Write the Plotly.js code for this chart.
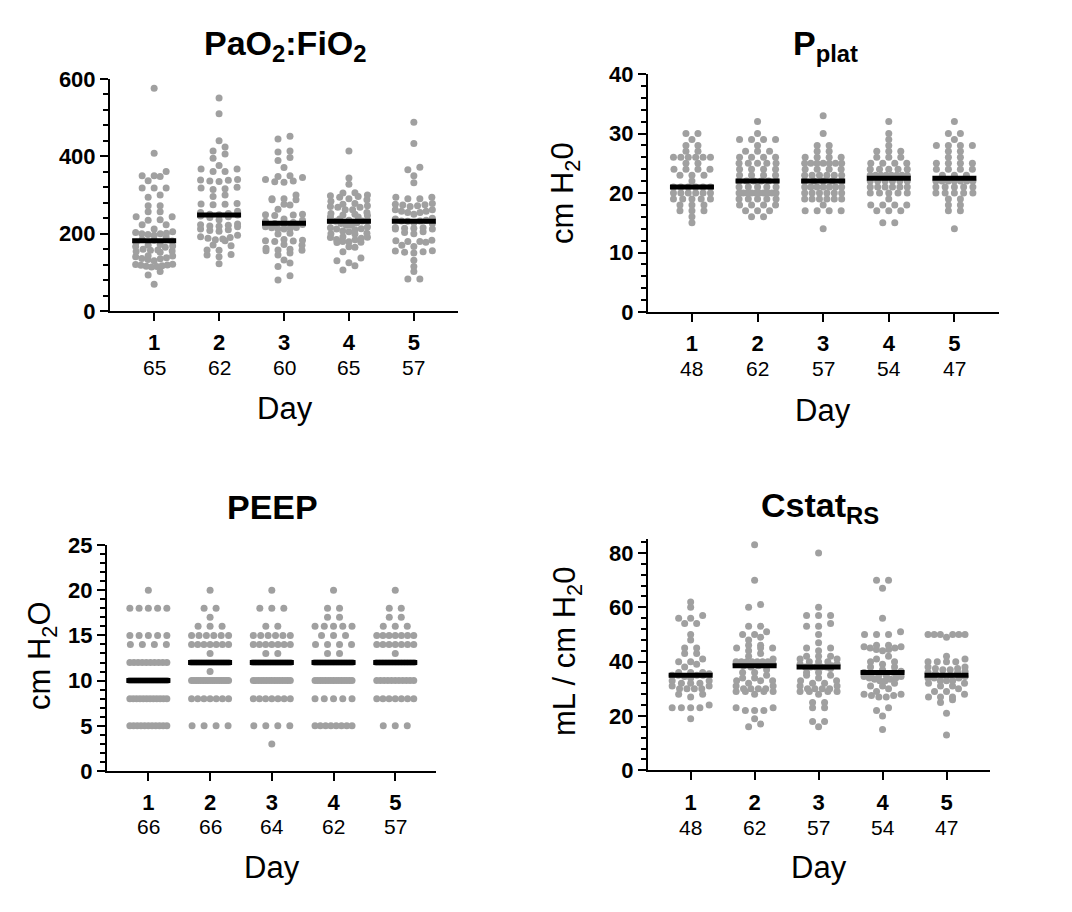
<!DOCTYPE html>
<html>
<head>
<meta charset="utf-8">
<script src="https://cdn.plot.ly/plotly-3.0.1.min.js"></script>
<style>
  html, body { margin: 0; padding: 0; background: #fff; }
  #chart { width: 1072px; height: 912px; }
</style>
</head>
<body>
<div id="chart"></div>
<script>
// ---- data ----
var days = [1, 2, 3, 4, 5];

// PaO2:FiO2
var pfN = [65, 62, 60, 65, 57];
var pfMedians = [182, 248, 227, 232, 232];
var pfValues = [
  [576, 408, 361, 350, 350, 348, 337, 318, 318, 318, 300, 294, 272, 272, 257, 257, 244, 244, 236, 235,
   223, 223, 212, 205, 203, 201, 200, 200, 198, 196, 190, 185, 183, 181, 178, 172, 170, 168, 167, 165,
   160, 158, 157, 155, 154, 152, 143, 142, 140, 138, 136, 135, 133, 130, 121, 120, 119, 118, 117, 116,
   115, 114, 102, 93, 69],
  [551, 510, 440, 424, 414, 406, 395, 376, 367, 367, 361, 361, 340, 339, 338, 336, 335, 320, 318, 316,
   314, 300, 296, 278, 277, 276, 275, 258, 255, 252, 250, 249, 248, 246, 244, 242, 236, 225, 223, 222,
   220, 219, 218, 212, 210, 208, 206, 196, 192, 190, 188, 186, 184, 182, 171, 169, 158, 157, 146, 145,
   140, 122],
  [452, 445, 414, 411, 397, 389, 371, 350, 345, 340, 336, 334, 333, 348, 300, 290, 290, 288, 288, 276,
   274, 263, 224, 250, 249, 248, 247, 225, 238, 235, 232, 229, 226, 218, 216, 215, 214, 213, 212, 201,
   199, 185, 183, 182, 181, 180, 172, 170, 162, 160, 158, 157, 156, 145, 132, 124, 115, 91, 80, 150],
  [414, 344, 328, 305, 300, 290, 284, 288, 298, 306, 270, 268, 262, 255, 262, 268, 272, 243, 243, 238,
   235, 234, 233, 233, 232, 228, 226, 222, 215, 212, 210, 213, 217, 222, 200, 201, 199, 190, 192, 188,
   191, 178, 180, 177, 179, 165, 166, 153, 137, 130, 125, 117, 106, 252, 250, 248, 247, 296, 294, 278,
   276, 207, 205, 185, 184],
  [488, 433, 372, 365, 350, 332, 294, 294, 290, 290, 278, 276, 275, 274, 272, 270, 262, 258, 255, 250,
   255, 258, 262, 240, 238, 235, 233, 233, 232, 228, 226, 215, 214, 212, 212, 214, 216, 205, 203, 200,
   182, 180, 178, 180, 183, 170, 167, 155, 153, 150, 152, 156, 131, 115, 102, 83, 83]
];

// Pplat
var pplatN = [48, 62, 57, 54, 47];
var pplatMedians = [21, 22, 22, 22.5, 22.5];
var pplatValues = [
  [30, 30, 29, 28, 28, 27, 27, 26, 26, 26, 26, 26, 26, 25, 25, 24, 24, 24, 24, 23, 23, 23, 22,
   21, 21, 21, 21, 21, 21, 20, 20, 20, 20, 20, 20, 19, 19, 19, 19, 19, 18, 18, 18, 17, 17, 17, 16, 15],
  [32, 30, 29, 29, 29, 29, 28, 27, 27, 27, 26, 26, 26, 26, 25, 25, 25, 25, 25, 24, 24, 24, 24,
   23, 23, 23, 23, 22, 22, 22, 22, 22, 22, 21, 21, 21, 21, 21, 20, 20, 20, 20, 20, 20, 20, 20, 20, 20,
   19, 19, 19, 19, 19, 18, 18, 18, 18, 17, 17, 17, 16, 16],
  [33, 30, 28, 28, 27, 27, 26, 26, 26, 26, 25, 25, 25, 25, 25, 25, 25, 24, 24, 24, 24,
   23, 23, 23, 23, 23, 23, 22, 22, 22, 22, 22, 21, 21, 21, 21, 21, 21, 21, 20, 20, 20, 20, 20, 20,
   19, 19, 19, 19, 19, 19, 18, 17, 17, 17, 17, 14],
  [32, 30, 29, 28, 27, 27, 27, 26, 26, 26, 25, 25, 25, 25, 24, 24, 24, 24, 24,
   23, 23, 23, 23, 23, 23, 23, 23, 22, 22, 22, 22, 22, 22, 21, 21, 21, 21, 21, 21,
   20, 20, 20, 20, 20, 19, 18, 18, 18, 18, 17, 17, 17, 15, 15],
  [32, 30, 30, 29, 28, 28, 28, 28, 27, 27, 26, 26, 25, 25, 25, 25, 24, 24, 24, 24, 23, 23, 23,
   22, 22, 22, 22, 22, 22, 22, 21, 21, 21, 21, 21, 20, 20, 20, 20, 20, 19, 19, 18, 18, 17, 17, 14]
];

// PEEP
var peepN = [66, 66, 64, 62, 57];
var peepMedians = [10, 12, 12, 12, 12];
var peepValues = [
  [20, 18, 18, 18, 18, 18, 15, 15, 15, 15, 15, 14, 14, 14, 14,
   12, 12, 12, 12, 12, 12, 12, 12, 12, 12,
   10, 10, 10, 10, 10, 10, 10, 10, 10, 10, 10, 10, 10, 10, 10, 10, 10, 10,
   8, 8, 8, 8, 8, 8, 8, 8, 8, 8, 8, 8,
   5, 5, 5, 5, 5, 5, 5, 5, 5, 5, 5],
  [20, 18, 18, 17, 16, 16, 16, 15, 15, 15, 15, 15, 15, 14, 14, 14, 14, 14, 14, 14, 13,
   12, 12, 12, 12, 12, 12, 12, 12, 12, 12, 12, 12, 12, 12, 12, 12, 11,
   10, 10, 10, 10, 10, 10, 10, 10, 10, 10, 10, 10, 10, 10, 10, 10, 10,
   8, 8, 8, 8, 8, 8, 8, 5, 5, 5, 5],
  [20, 18, 18, 18, 16, 16, 15, 15, 15, 15, 15, 15, 14, 14, 14, 14, 14, 14, 14, 13, 13,
   12, 12, 12, 12, 12, 12, 12, 12, 12, 12, 12, 12, 12, 12, 12, 12,
   10, 10, 10, 10, 10, 10, 10, 10, 10, 10, 10, 10, 10, 10, 10,
   8, 8, 8, 8, 8, 8, 8, 5, 5, 5, 5, 3],
  [20, 18, 18, 17, 17, 16, 16, 16, 16, 16, 15, 15, 15, 14, 14, 14, 14, 13, 13,
   12, 12, 12, 12, 12, 12, 12, 12, 12, 12, 12, 12, 12, 12, 12,
   10, 10, 10, 10, 10, 10, 10, 10, 10, 10, 10, 10, 10, 10, 10,
   8, 8, 8, 8, 8, 5, 5, 5, 5, 5, 5, 5, 5],
  [20, 18, 18, 17, 17, 16, 16, 16, 15, 15, 15, 15, 15, 15, 15, 14, 14, 14, 14, 14, 14, 14, 13,
   12, 12, 12, 12, 12, 12, 12, 12, 12, 12, 12, 12, 12,
   10, 10, 10, 10, 10, 10, 10, 10, 10, 10, 10,
   8, 8, 8, 8, 8, 8, 8, 5, 5, 5]
];

// Cstat RS
var cstatN = [48, 62, 57, 54, 47];
var cstatMedians = [35, 38.5, 38, 36, 35];
var cstatValues = [
  [62, 60, 57, 56, 56, 54, 54, 50, 48, 45, 45, 43, 43, 41, 40, 40, 39, 38,
   36, 36, 36, 35.5, 35, 35, 35, 35, 34.5, 34, 33, 33, 32, 32, 32, 31, 31,
   30, 30, 30, 30, 28, 28, 27, 24, 23, 23, 23, 23, 19],
  [83, 70, 61, 60, 53, 53, 51, 50, 49, 50, 48, 46, 46, 45, 45, 45, 44, 42, 41, 43,
   40, 40, 40, 40, 40, 40, 40, 39, 39, 39, 38.5, 38.5, 38,
   37, 36, 36, 35, 34, 34, 33, 33, 33, 32,
   31, 31, 30, 30, 30, 29, 29, 29, 29, 30, 28,
   23, 22, 22, 22, 23, 19, 17, 16],
  [80, 60, 57, 57, 57, 54, 53, 53, 50, 47, 45, 45, 44, 42, 42, 42, 41, 41, 40, 40,
   40, 39, 39, 38.5, 38, 38, 38, 37.5, 38, 38, 36, 35, 35, 34, 33, 33, 32, 32, 31, 30,
   30, 30, 29, 29, 29, 29, 30, 28, 25, 25, 23, 23, 18, 18, 16, 36, 31],
  [70, 70, 67, 56, 51, 50, 50, 50, 46, 45.5, 45, 44.5, 44, 44.5, 45, 45.5, 46,
   42, 41, 40, 40, 39, 38, 38, 37, 36.5, 36, 36, 35.5,
   35, 35, 34.5, 34, 33.5, 33, 33, 33.5, 34, 34.5, 32, 31, 31, 30, 29,
   28, 27.5, 27, 27, 27.5, 28, 23, 22, 20, 15],
  [50, 50, 50, 49, 50, 50, 50, 42, 41, 40, 40, 40, 40,
   38, 37.5, 37, 36.5, 37, 37.5, 38, 36, 36, 35.5, 35, 35, 34.5,
   34, 34, 34, 33, 33, 33, 32, 32, 31, 31,
   30, 29, 29, 28, 27, 27, 27, 26, 25, 21, 13]
];

// ---- layout geometry (px in a 1072 x 912 page) ----
var W = 1072, H = 912;
var FONT = 'Liberation Sans, Arial, Helvetica, sans-serif';
var DOT = 7;          // marker diameter px
var ROW_GAP = 5;      // px: values closer than this share a row
var MAX_STEP = 12;    // px between points in a row
var MAX_HALF = 18.5;  // px half width of a swarm
var MEDIAN_HALF = 22; // px half width of median bar

var panels = [
  {name: '', left: 110, right: 458, top: 79, bottom: 311, xr: [0.32, 5.68], yr: [0, 600],
   dtick: 200, minor: 40, values: pfValues, medians: pfMedians, n: pfN,
   title: 'PaO<sub>2</sub>:FiO<sub>2</sub>', tx: 285, ty: 46, ytitle: null,
   nY: 368, dayX: 285, dayY: 408},
  {name: '2', left: 648, right: 999, top: 74, bottom: 312, xr: [0.33, 5.68], yr: [0, 40],
   dtick: 10, minor: 2, values: pplatValues, medians: pplatMedians, n: pplatN,
   title: 'P<sub>plat</sub>', tx: 825, ty: 46, ytitle: 'cm H<sub>2</sub>0', yx: 565, yy: 193,
   nY: 369, dayX: 823, dayY: 410},
  {name: '3', left: 107, right: 436, top: 545, bottom: 771, xr: [0.33, 5.66], yr: [0, 25],
   dtick: 5, minor: 1, values: peepValues, medians: peepMedians, n: peepN,
   title: 'PEEP', tx: 272, ty: 507, ytitle: 'cm H<sub>2</sub>O', yx: 42, yy: 656,
   nY: 826, dayX: 272, dayY: 867},
  {name: '4', left: 648, right: 990, top: 539.4, bottom: 770.3, xr: [0.333, 5.68], yr: [0, 85],
   dtick: 20, minor: 4, values: cstatValues, medians: cstatMedians, n: cstatN,
   title: 'Cstat<sub>RS</sub>', tx: 820, ty: 507, ytitle: 'mL / cm H<sub>2</sub>0', yx: 567, yy: 652,
   nY: 827, dayX: 819, dayY: 867}
];

// column scatter: rows of close values spread sideways, squeezed when crowded
function swarm(values, center, pxX, pxY) {
  var sorted = values.slice().sort(function(a, b) { return a - b; });
  var rows = [], cur = [];
  sorted.forEach(function(v) {
    if (cur.length && (v - cur[0]) * pxY >= ROW_GAP) { rows.push(cur); cur = []; }
    cur.push(v);
  });
  if (cur.length) rows.push(cur);

  var xs = [], ys = [];
  rows.forEach(function(row) {
    var k = row.length;
    var step = k > 1 ? Math.min(MAX_STEP, 2 * MAX_HALF / (k - 1)) : 0;
    var slots = [];
    for (var j = 0; j < k; j++) slots.push((j - (k - 1) / 2) * step);
    slots.sort(function(a, b) { return Math.abs(a) - Math.abs(b) || a - b; });
    row.forEach(function(v, j) {
      xs.push(center + slots[j] / pxX);
      ys.push(v);
    });
  });
  return {x: xs, y: ys};
}

var data = [];
var layout = {
  width: W, height: H,
  margin: {l: 0, r: 0, t: 0, b: 0},
  paper_bgcolor: '#fff', plot_bgcolor: '#fff',
  showlegend: false,
  font: {family: FONT, color: '#000'},
  annotations: []
};

panels.forEach(function(p) {
  var xa = 'x' + p.name, ya = 'y' + p.name;
  var pxX = (p.right - p.left) / (p.xr[1] - p.xr[0]);
  var pxY = (p.bottom - p.top) / (p.yr[1] - p.yr[0]);

  var px = [], py = [];
  p.values.forEach(function(vals, i) {
    var s = swarm(vals, days[i], pxX, pxY);
    px = px.concat(s.x); py = py.concat(s.y);
  });
  data.push({
    type: 'scatter', mode: 'markers', x: px, y: py, xaxis: xa, yaxis: ya,
    marker: {size: DOT, color: 'rgb(160,160,160)', line: {width: 0}},
    hoverinfo: 'y'
  });

  var mx = [], my = [];
  p.medians.forEach(function(m, i) {
    mx.push(days[i] - MEDIAN_HALF / pxX, days[i] + MEDIAN_HALF / pxX, null);
    my.push(m, m, null);
  });
  data.push({
    type: 'scatter', mode: 'lines', x: mx, y: my, xaxis: xa, yaxis: ya,
    line: {color: '#000', width: 5}, hoverinfo: 'skip'
  });

  layout['xaxis' + p.name] = {
    domain: [p.left / W, p.right / W], anchor: ya, range: p.xr,
    tickvals: days, ticktext: days.map(String),
    ticks: 'outside', ticklen: 8, tickwidth: 2, tickcolor: '#000',
    showline: true, linewidth: 2, linecolor: '#000',
    showgrid: false, zeroline: false,
    tickfont: {family: FONT, size: 22, weight: 'bold'},
    ticklabelstandoff: 3
  };
  layout['yaxis' + p.name] = {
    domain: [1 - p.bottom / H, 1 - p.top / H], anchor: xa, range: p.yr,
    dtick: p.dtick, tick0: 0,
    ticks: 'outside', ticklen: 8, tickwidth: 2, tickcolor: '#000',
    minor: {dtick: p.minor, ticks: 'outside', ticklen: 5, tickwidth: 2, tickcolor: '#000'},
    showline: true, linewidth: 2, linecolor: '#000',
    showgrid: false, zeroline: false,
    tickfont: {family: FONT, size: 22, weight: 'bold'}
  };

  layout.annotations.push({
    text: p.title, xref: 'paper', yref: 'paper', x: p.tx / W, y: 1 - p.ty / H,
    xanchor: 'center', yanchor: 'middle', showarrow: false,
    font: {family: FONT, size: 34, weight: 'bold'}
  });
  if (p.ytitle) {
    layout.annotations.push({
      text: p.ytitle, xref: 'paper', yref: 'paper', x: p.yx / W, y: 1 - p.yy / H,
      xanchor: 'center', yanchor: 'middle', textangle: -90, showarrow: false,
      font: {family: FONT, size: 31}
    });
  }
  p.n.forEach(function(n, i) {
    layout.annotations.push({
      text: String(n), xref: xa, yref: 'paper', x: days[i], y: 1 - p.nY / H,
      xanchor: 'center', yanchor: 'middle', showarrow: false,
      font: {family: FONT, size: 21}
    });
  });
  layout.annotations.push({
    text: 'Day', xref: 'paper', yref: 'paper', x: p.dayX / W, y: 1 - p.dayY / H,
    xanchor: 'center', yanchor: 'middle', showarrow: false,
    font: {family: FONT, size: 31}
  });
});

Plotly.newPlot('chart', data, layout, {displayModeBar: false, staticPlot: true});
</script>
</body>
</html>
